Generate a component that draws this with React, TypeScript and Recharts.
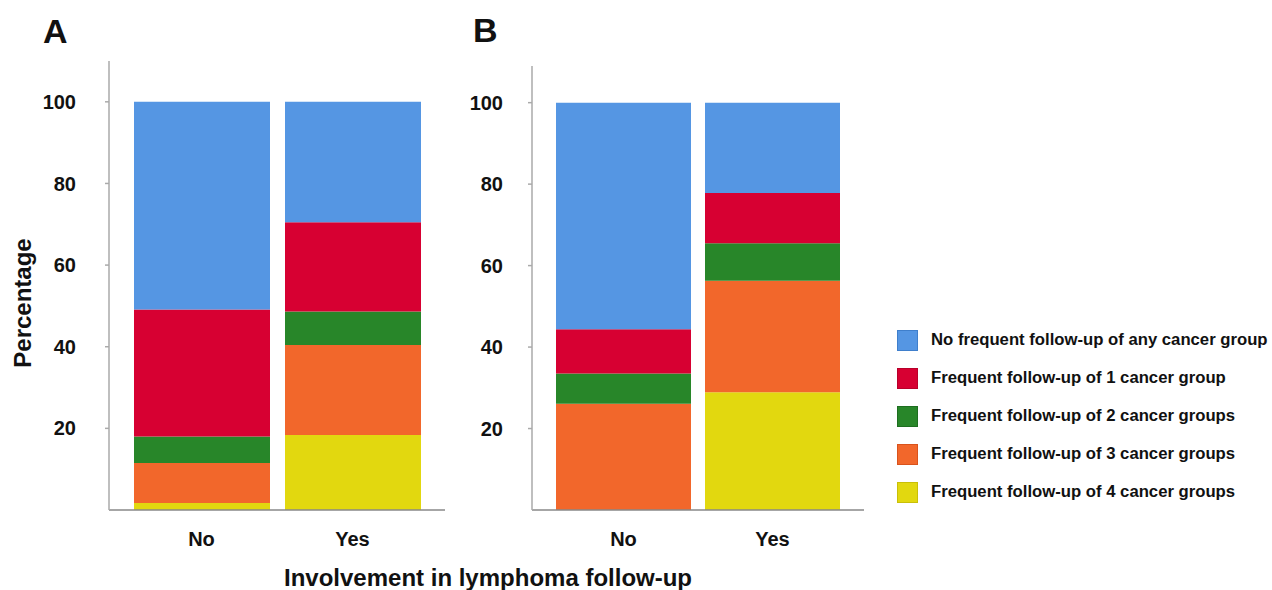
import React from "react";
import { BarChart, Bar, XAxis, YAxis } from "recharts";

const categories = ["No", "Yes"];

const seriesNames = [
  "Frequent follow-up of 4 cancer groups",
  "Frequent follow-up of 3 cancer groups",
  "Frequent follow-up of 2 cancer groups",
  "Frequent follow-up of 1 cancer group",
  "No frequent follow-up of any cancer group",
];
const seriesColors = ["#E2D80F", "#F2672B", "#288629", "#D70032", "#5596E3"];
const seriesBorders = ["#C9BF08", "#D9531C", "#1E6E20", "#B8002A", "#3F7FCC"];

// panel A (percent, stacked bottom -> top: 4 groups ... none)
const aFour = [1.7, 18.4];
const aThree = [9.8, 22.0];
const aTwo = [6.5, 8.2];
const aOne = [31.1, 21.9];
const aNone = [50.9, 29.5];

// panel B
const bFour = [0, 28.9];
const bThree = [26.1, 27.4];
const bTwo = [7.4, 9.2];
const bOne = [10.9, 12.3];
const bNone = [55.6, 22.2];

const yTicks = [20, 40, 60, 80, 100];

const FONT = '"Liberation Sans", Arial, sans-serif';

function buildRows(cols: number[][]) {
  return categories.map((c, i) => {
    const row: any = { name: c };
    cols.forEach((col, k) => {
      row["s" + k] = col[i];
    });
    return row;
  });
}

const dataA = buildRows([aFour, aThree, aTwo, aOne, aNone]);
const dataB = buildRows([bFour, bThree, bTwo, bOne, bNone]);

const tickStyle = { fontSize: 20, fontWeight: 700, fill: "#111", fontFamily: FONT };

function LegendBox() {
  // top to bottom: none, 1, 2, 3, 4
  const order = [4, 3, 2, 1, 0];
  return (
    <div style={{ position: "absolute", left: 897, top: 321, fontFamily: FONT }}>
      {order.map((k) => (
        <div
          key={seriesNames[k]}
          style={{ display: "flex", alignItems: "center", height: 38 }}
        >
          <span
            style={{
              width: 19,
              height: 19,
              background: seriesColors[k],
              border: `1px solid ${seriesBorders[k]}`,
              display: "inline-block",
            }}
          />
          <span
            style={{
              marginLeft: 13,
              fontSize: 16.7,
              fontWeight: 700,
              color: "#111",
              whiteSpace: "nowrap",
            }}
          >
            {seriesNames[k]}
          </span>
        </div>
      ))}
    </div>
  );
}

function bars(size: number) {
  return seriesNames.map((n, k) => (
    <Bar
      key={n}
      dataKey={"s" + k}
      name={n}
      stackId="a"
      fill={seriesColors[k]}
      barSize={size}
      isAnimationActive={false}
    />
  ));
}

export default function App() {
  return (
    <div
      style={{
        position: "absolute",
        left: 0,
        top: 0,
        width: 1272,
        height: 590,
        background: "#fff",
        overflow: "hidden",
        fontFamily: FONT,
      }}
    >
      <div style={{ position: "absolute", left: 0, top: 0 }}>
        <BarChart
          width={460}
          height={590}
          data={dataA}
          margin={{ top: 61, right: 15, bottom: 20, left: 0 }}
        >
          <XAxis
            dataKey="name"
            padding={{ left: 17, right: 17 }}
            tickLine={false}
            tickSize={0}
            tickMargin={22}
            height={60}
            stroke="#888"
            strokeWidth={1.5}
            tick={tickStyle}
          />
          <YAxis
            width={109}
            domain={[0, 110]}
            ticks={yTicks}
            tickSize={4}
            tickMargin={29}
            stroke="#aaa"
            strokeWidth={1.5}
            tick={tickStyle}
          />
          {bars(136)}
        </BarChart>
      </div>

      <div style={{ position: "absolute", left: 440, top: 0 }}>
        <BarChart
          width={440}
          height={590}
          data={dataB}
          margin={{ top: 66, right: 16, bottom: 20, left: 0 }}
        >
          <XAxis
            dataKey="name"
            padding={{ left: 17, right: 17 }}
            tickLine={false}
            tickSize={0}
            tickMargin={22}
            height={60}
            stroke="#888"
            strokeWidth={1.5}
            tick={tickStyle}
          />
          <YAxis
            width={92}
            domain={[0, 109]}
            ticks={yTicks}
            tickSize={4}
            tickMargin={25}
            stroke="#aaa"
            strokeWidth={1.5}
            tick={tickStyle}
          />
          {bars(135)}
        </BarChart>
      </div>

      <LegendBox />

      <div
        style={{
          position: "absolute",
          left: 43,
          top: 14,
          fontSize: 34,
          lineHeight: "34px",
          fontWeight: 700,
          color: "#111",
        }}
      >
        A
      </div>
      <div
        style={{
          position: "absolute",
          left: 473,
          top: 13,
          fontSize: 34,
          lineHeight: "34px",
          fontWeight: 700,
          color: "#111",
        }}
      >
        B
      </div>
      <div
        style={{
          position: "absolute",
          left: 23,
          top: 303,
          transform: "translate(-50%, -50%) rotate(-90deg)",
          fontSize: 24,
          lineHeight: "24px",
          fontWeight: 700,
          color: "#111",
          whiteSpace: "nowrap",
        }}
      >
        Percentage
      </div>
      <div
        style={{
          position: "absolute",
          left: 284,
          top: 566,
          fontSize: 24,
          lineHeight: "24px",
          fontWeight: 700,
          color: "#111",
          whiteSpace: "nowrap",
        }}
      >
        Involvement in lymphoma follow-up
      </div>
    </div>
  );
}
